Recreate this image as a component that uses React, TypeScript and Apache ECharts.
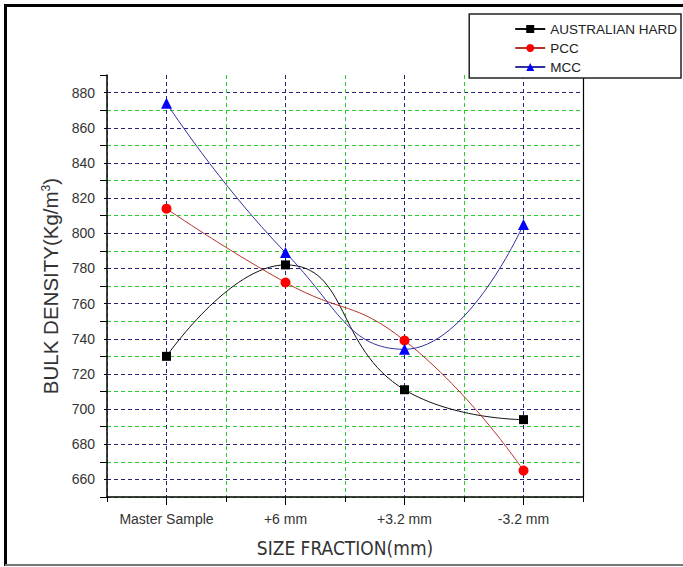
import React, { useEffect, useRef } from 'react';
import * as echarts from 'echarts';

const categories = ['Master Sample', '+6 mm', '+3.2 mm', '-3.2 mm'];
const australianHard = [730, 782, 711, 694];
const pcc = [814, 772, 739, 665];
const mcc = [874, 789, 734, 805];
const yMin = 650;
const yMax = 890;
const yStep = 10;
const yLabelStep = 20;

export default function App() {
  const ref = useRef<HTMLDivElement>(null);
  useEffect(() => {
    document.body.style.margin = '0';
    const chart = echarts.init(ref.current!, null, { renderer: 'svg' });
    const navy = '#23237a';
    const green = '#2ecc2e';
    const font = '"Liberation Sans", Arial, sans-serif';
    const narrow = '"Liberation Sans Narrow", "Arial Narrow", "DejaVu Sans Condensed", sans-serif';
    chart.setOption({
      animation: false,
      backgroundColor: '#fff',
      grid: { left: 107, right: 100, top: 75, bottom: 70, containLabel: false },
      legend: {
        orient: 'vertical',
        right: 2,
        top: 14,
        padding: [8, 4, 4, 45],
        itemGap: 5,
        itemWidth: 30,
        itemHeight: 10,
        borderColor: '#222',
        borderWidth: 1.5,
        backgroundColor: '#fff',
        textStyle: { fontSize: 13.5, color: '#222', fontFamily: font },
        data: ['AUSTRALIAN HARD', 'PCC', 'MCC'],
      },
      graphic: [
        { type: 'polyline', shape: { points: [[5.5, 566], [5.5, 5.5], [683, 5.5]] }, style: { stroke: '#000', lineWidth: 3, fill: 'none' }, silent: true },
        { type: 'line', shape: { x1: 5, y1: 565, x2: 683, y2: 565 }, style: { stroke: '#777', lineWidth: 2 }, silent: true },
      ],
      xAxis: [
        {
          type: 'category',
          data: categories,
          position: 'bottom',
          boundaryGap: true,
          axisLine: { onZero: false, lineStyle: { color: '#000', width: 1.5 } },
          axisTick: { show: true, interval: 0, length: 5, lineStyle: { color: '#000' } },
          axisLabel: { show: false },
          splitLine: { show: true, interval: 0, lineStyle: { color: green, type: [4, 3], width: 1 } },
          name: 'SIZE FRACTION(mm)',
          nameLocation: 'middle',
          nameGap: 41,
          nameTextStyle: { fontSize: 19, color: '#333', fontFamily: narrow },
        },
        {
          type: 'category',
          data: categories,
          position: 'bottom',
          boundaryGap: true,
          axisLine: { show: false, onZero: false },
          axisTick: { show: true, interval: 0, alignWithLabel: true, length: 8, lineStyle: { color: '#000' } },
          axisLabel: { interval: 0, margin: 15, fontSize: 14, color: '#333', fontFamily: font },
          splitLine: { show: true, interval: 0, alignWithLabel: true, lineStyle: { color: navy, type: [4, 3], width: 1 } },
        },
      ],
      yAxis: [
        {
          type: 'value',
          min: yMin,
          max: yMax,
          interval: yStep,
          position: 'left',
          axisLine: { show: true, onZero: false, lineStyle: { color: '#000', width: 1.5 } },
          axisTick: { show: true, length: 3, lineStyle: { color: '#000' } },
          axisLabel: {
            margin: 12,
            fontSize: 14,
            color: '#333',
            fontFamily: font,
            formatter: (v: number) => (v % yLabelStep === 0 ? String(v) : ''),
          },
          splitLine: { show: true, showMaxLine: false, lineStyle: { color: [green, navy], type: [4, 3], width: 1 } },
          name: 'BULK DENSITY(Kg/m{sup|3})',
          nameLocation: 'middle',
          nameGap: 46,
          nameTextStyle: {
            fontSize: 20.5,
            color: '#333',
            fontFamily: font,
            rich: { sup: { fontSize: 12, verticalAlign: 'top', fontFamily: font, color: '#333' } },
          },
        },
        {
          type: 'value',
          min: yMin,
          max: yMax,
          interval: yLabelStep,
          position: 'left',
          axisLine: { show: false, onZero: false },
          axisTick: { show: true, length: 7, lineStyle: { color: '#000' } },
          axisLabel: { show: false },
          splitLine: { show: false },
        },
        {
          type: 'value',
          min: yMin,
          max: yMax,
          position: 'right',
          axisLine: { show: true, onZero: false, lineStyle: { color: '#000', width: 1.2 } },
          axisTick: { show: false },
          axisLabel: { show: false },
          splitLine: { show: false },
        },
      ],
      series: [
        {
          name: 'AUSTRALIAN HARD',
          type: 'line',
          data: australianHard,
          xAxisIndex: 1,
          yAxisIndex: 0,
          smooth: 0.5,
          symbol: 'rect',
          symbolSize: 9,
          lineStyle: { color: '#111', width: 1 },
          itemStyle: { color: '#000' },
        },
        {
          name: 'PCC',
          type: 'line',
          data: pcc,
          xAxisIndex: 1,
          yAxisIndex: 0,
          smooth: 0.5,
          symbol: 'circle',
          symbolSize: 10,
          lineStyle: { color: '#b5332a', width: 1 },
          itemStyle: { color: '#ff0000' },
        },
        {
          name: 'MCC',
          type: 'line',
          data: mcc,
          xAxisIndex: 1,
          yAxisIndex: 0,
          smooth: 0.5,
          symbol: 'triangle',
          symbolSize: 11,
          lineStyle: { color: '#3030a0', width: 1 },
          itemStyle: { color: '#0000ff' },
        },
      ],
    });
    return () => chart.dispose();
  }, []);
  return <div ref={ref} style={{ width: 683, height: 567 }} />;
}
